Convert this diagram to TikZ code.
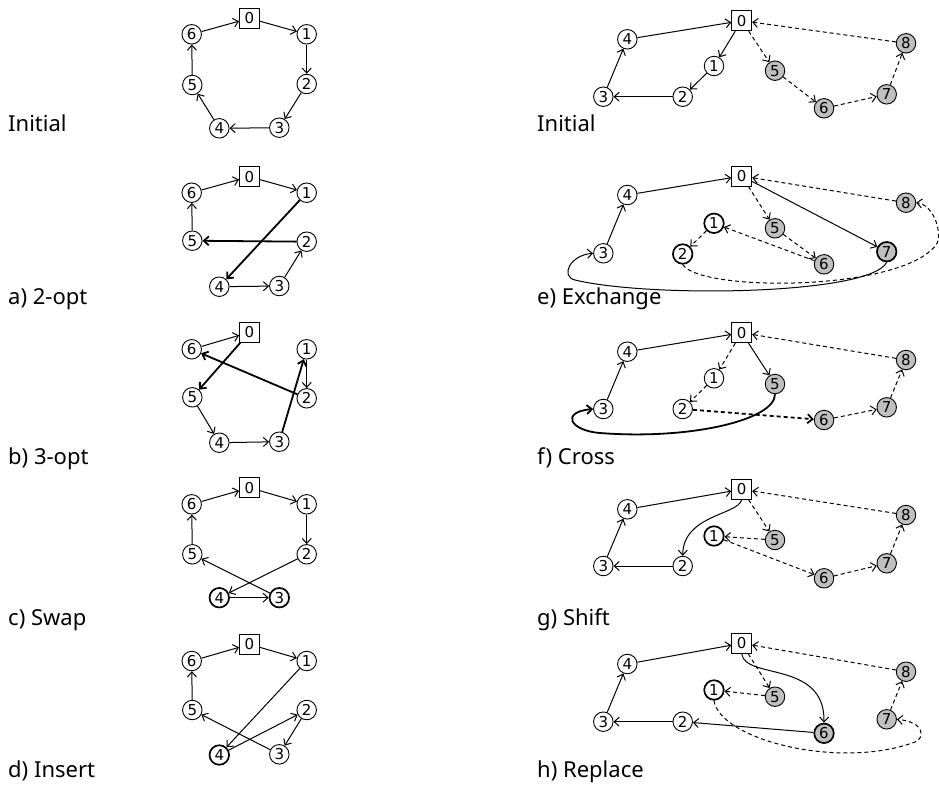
\documentclass[tikz,border=0pt]{standalone}
\usepackage{fontspec}
\setmainfont{Noto Sans}
\newfontfamily\numfont{DejaVu Sans}
\usetikzlibrary{arrows.meta}
\begin{document}
\begin{tikzpicture}[x=1pt,y=-1pt,
  v/.style={circle,draw,line width=0.9pt,minimum size=19.5pt,inner sep=0pt,fill=white,
            font=\numfont\fontsize{15}{15}\selectfont},
  dep/.style={rectangle,draw,line width=0.9pt,minimum width=20pt,minimum height=20pt,inner sep=0pt,fill=white,
            font=\numfont\fontsize{15}{15}\selectfont},
  cu/.style={v,fill=gray!50},
  hl/.style={line width=1.7pt},
  ar/.style={line width=1pt,-{Straight Barb[length=5pt,width=9pt]}},
  bold/.style={ar,line width=1.8pt},
  dsh/.style={ar,dash pattern=on 4pt off 3pt},
  lab/.style={anchor=base west,inner sep=0pt,font=\fontsize{22}{22}\selectfont}]
\useasboundingbox (0,0) rectangle (939,785);

% ---------- labels ----------
\node[lab] (tL) at (8,131) {Initial};
\node[lab] (ta) at (8,304) {a) 2-opt};
\node[lab] (tb) at (8,464) {b) 3-opt};
\node[lab] (tc) at (8,625) {c) Swap};
\node[lab] (td) at (8,777) {d) Insert};
\node[lab] (tR) at (537,131) {Initial};
\node[lab] (te) at (537,304) {e) Exchange};
\node[lab] (tf) at (537,464) {f) Cross};
\node[lab] (tg) at (537,625) {g) Shift};
\node[lab] (th) at (537,777) {h) Replace};

% ---------- single tour: initial ----------
\node[dep] (L0) at (249.5,18.3) {0};
\node[v] (L6) at (191.7,34.3) {6};
\node[v] (L1) at (306.7,34.3) {1};
\node[v] (L2) at (306.7,84) {2};
\node[v] (L5) at (192.3,85) {5};
\node[v] (L4) at (219.3,128.3) {4};
\node[v] (L3) at (279.3,127.7) {3};
\draw[ar] (L6) -- (L0);
\draw[ar] (L0) -- (L1);
\draw[ar] (L1) -- (L2);
\draw[ar] (L2) -- (L3);
\draw[ar] (L3) -- (L4);
\draw[ar] (L4) -- (L5);
\draw[ar] (L5) -- (L6);

% ---------- 2-opt ----------
\node[dep] (a0) at (249.5,176.7) {0};
\node[v] (a6) at (191.7,192.7) {6};
\node[v] (a1) at (306.7,192.7) {1};
\node[v] (a5) at (192.3,240.7) {5};
\node[v] (a2) at (306.7,241.7) {2};
\node[v] (a4) at (219.3,286.7) {4};
\node[v] (a3) at (279.3,286) {3};
\draw[ar] (a6) -- (a0);
\draw[ar] (a0) -- (a1);
\draw[bold] (a1) -- (a4);
\draw[ar] (a4) -- (a3);
\draw[ar] (a3) -- (a2);
\draw[bold] (a2) -- (a5);
\draw[ar] (a5) -- (a6);

% ---------- 3-opt ----------
\node[dep] (b0) at (249.5,332.3) {0};
\node[v] (b6) at (191.7,349.3) {6};
\node[v] (b1) at (306.7,349.3) {1};
\node[v] (b5) at (192.3,397.3) {5};
\node[v] (b2) at (306.7,398.3) {2};
\node[v] (b4) at (219.3,442.7) {4};
\node[v] (b3) at (279.3,441.7) {3};
\draw[ar] (b6) -- (b0);
\draw[bold] (b0) -- (b5);
\draw[ar] (b5) -- (b4);
\draw[ar] (b4) -- (b3);
\draw[bold] (b3) -- (b1);
\draw[ar] (b1) -- (b2);
\draw[bold] (b2) -- (b6);

% ---------- swap ----------
\node[dep] (c0) at (249.5,487.7) {0};
\node[v] (c6) at (191.7,504.3) {6};
\node[v] (c1) at (306.7,504.3) {1};
\node[v] (c5) at (192.3,554.3) {5};
\node[v] (c2) at (306.7,554.3) {2};
\node[v,hl] (c4) at (219.3,597.7) {4};
\node[v,hl] (c3) at (279.3,597.7) {3};
\draw[ar] (c6) -- (c0);
\draw[ar] (c0) -- (c1);
\draw[ar] (c1) -- (c2);
\draw[ar] (c2) -- (c4);
\draw[ar] (c4) -- (c3);
\draw[ar] (c3) -- (c5);
\draw[ar] (c5) -- (c6);

% ---------- insert ----------
\node[dep] (d0) at (249.5,644.3) {0};
\node[v] (d6) at (191.7,661) {6};
\node[v] (d1) at (306.7,661) {1};
\node[v] (d5) at (192.3,710) {5};
\node[v] (d2) at (306.7,710) {2};
\node[v,hl] (d4) at (219.3,755) {4};
\node[v] (d3) at (279.3,754.3) {3};
\draw[ar] (d6) -- (d0);
\draw[ar] (d0) -- (d1);
\draw[ar] (d1) -- (d4);
\draw[ar] (d4) -- (d2);
\draw[ar] (d2) -- (d3);
\draw[ar] (d3) -- (d5);
\draw[ar] (d5) -- (d6);

% ---------- two routes: initial ----------
\node[dep] (R0) at (741.7,20.7) {0};
\node[v] (R4) at (627.3,39.3) {4};
\node[v] (R1) at (714,66) {1};
\node[cu] (R5) at (775,70.7) {5};
\node[cu] (R8) at (906,43.3) {8};
\node[v] (R3) at (603.3,96.7) {3};
\node[v] (R2) at (682.7,96.7) {2};
\node[cu] (R6) at (824,108.3) {6};
\node[cu] (R7) at (886.7,94.3) {7};
\draw[ar] (R4) -- (R0);
\draw[ar] (R0) -- (R1);
\draw[ar] (R1) -- (R2);
\draw[ar] (R2) -- (R3);
\draw[ar] (R3) -- (R4);
\draw[dsh] (R0) -- (R5);
\draw[dsh] (R5) -- (R6);
\draw[dsh] (R6) -- (R7);
\draw[dsh] (R7) -- (R8);
\draw[dsh] (R8) -- (R0);

% ---------- exchange ----------
\node[dep] (e0) at (741.7,176) {0};
\node[v] (e4) at (627.3,195) {4};
\node[cu] (e8) at (906,202.7) {8};
\node[v,hl] (e1) at (714,223.3) {1};
\node[cu] (e5) at (775,228.3) {5};
\node[v] (e3) at (603.3,253.3) {3};
\node[v,hl] (e2) at (682.7,254) {2};
\node[cu,hl] (e7) at (886.7,251.7) {7};
\node[cu] (e6) at (824,264.3) {6};
\draw[ar] (e4) -- (e0);
\draw[ar] (e3) -- (e4);
\draw[ar] (e0) -- (e7);
\draw[ar] (e7.south) .. controls (870,295) and (650,298) .. (575,280)
                     .. controls (560,276.4) and (570,255) .. (e3.west);
\draw[dsh] (e0) -- (e5);
\draw[dsh] (e5) -- (e6);
\draw[dsh] (e6) -- (e1);
\draw[dsh] (e1) -- (e2);
\draw[dsh] (e2.south) .. controls (700,292) and (900,292) .. (936,245)
                      .. controls (943,236) and (935,205) .. (e8.east);
\draw[dsh] (e8) -- (e0);

% ---------- cross ----------
\node[dep] (f0) at (741.7,332.7) {0};
\node[v] (f4) at (627.3,351.7) {4};
\node[cu] (f8) at (906,360) {8};
\node[v] (f1) at (714,378.3) {1};
\node[cu] (f5) at (775,384) {5};
\node[v] (f3) at (603.3,409) {3};
\node[v] (f2) at (682.7,409) {2};
\node[cu] (f7) at (886.7,407.3) {7};
\node[cu] (f6) at (824,420) {6};
\draw[ar] (f4) -- (f0);
\draw[ar] (f3) -- (f4);
\draw[ar] (f0) -- (f5);
\draw[bold] (f5.south) .. controls (775,420) and (690,440) .. (600,433)
                       .. controls (570,430.7) and (560,412) .. (f3.west);
\draw[dsh] (f0) -- (f1);
\draw[dsh] (f1) -- (f2);
\draw[dsh,line width=1.8pt] (f2) -- (f6);
\draw[dsh] (f6) -- (f7);
\draw[dsh] (f7) -- (f8);
\draw[dsh] (f8) -- (f0);

% ---------- shift ----------
\node[dep] (g0) at (741.7,489.3) {0};
\node[v] (g4) at (627.3,509.3) {4};
\node[cu] (g8) at (906,515) {8};
\node[v,hl] (g1) at (714,536) {1};
\node[cu] (g5) at (775,540) {5};
\node[v] (g3) at (603.3,566) {3};
\node[v] (g2) at (682.7,566) {2};
\node[cu] (g7) at (886.7,563.3) {7};
\node[cu] (g6) at (824,578.3) {6};
\draw[ar] (g4) -- (g0);
\draw[ar] (g3) -- (g4);
\draw[ar] (g2) -- (g3);
\draw[ar] (g0.south) .. controls (738,515) and (683,515) .. (g2.north);
\draw[dsh] (g0) -- (g5);
\draw[dsh] (g5) -- (g1);
\draw[dsh] (g1) -- (g6);
\draw[dsh] (g6) -- (g7);
\draw[dsh] (g7) -- (g8);
\draw[dsh] (g8) -- (g0);

% ---------- replace ----------
\node[dep] (h0) at (741.7,643.3) {0};
\node[v] (h4) at (627.3,664) {4};
\node[cu] (h8) at (906,671.7) {8};
\node[v,hl] (h1) at (714,690) {1};
\node[cu] (h5) at (775,696.7) {5};
\node[v] (h3) at (603.3,721.7) {3};
\node[v] (h2) at (682.7,721.7) {2};
\node[cu] (h7) at (886.7,719.3) {7};
\node[cu,hl] (h6) at (824,733.3) {6};
\draw[ar] (h4) -- (h0);
\draw[ar] (h3) -- (h4);
\draw[ar] (h2) -- (h3);
\draw[ar] (h0.south) .. controls (745,680) and (825,660) .. (h6.north);
\draw[ar] (h6) -- (h2);
\draw[dsh] (h0) -- (h5);
\draw[dsh] (h5) -- (h1);
\draw[dsh] (h1.south) .. controls (720,740) and (840,770) .. (915,742)
                      .. controls (925,738.3) and (925,722) .. (h7.east);
\draw[dsh] (h7) -- (h8);
\draw[dsh] (h8) -- (h0);
\end{tikzpicture}
\end{document}
